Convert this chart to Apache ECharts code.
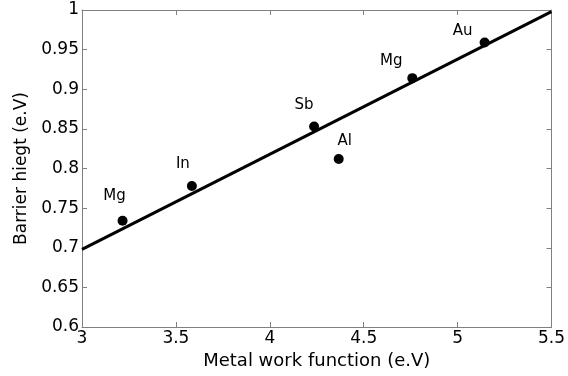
<!DOCTYPE html>
<html>
<head>
<meta charset="utf-8">
<script src="https://cdn.jsdelivr.net/npm/echarts@6/dist/echarts.min.js"></script>
<style>
  html, body { margin: 0; padding: 0; background: #fff; }
  #chart { width: 568px; height: 376px; }
</style>
</head>
<body>
<div id="chart"></div>
<script>
// 数据点：金属功函数 vs 势垒高度
const metals = ['Mg', 'In', 'Sb', 'Al', 'Mg', 'Au']
const workFunction = [3.216, 3.585, 4.236, 4.367, 4.759, 5.144]
const barrierHeight = [0.734, 0.778, 0.853, 0.812, 0.914, 0.959]
// 拟合直线端点
const fitX = [3, 5.5]
const fitY = [0.698, 0.998]
// 刻度
const xTicks = [3, 3.5, 4, 4.5, 5, 5.5]
const yTicks = [0.6, 0.65, 0.7, 0.75, 0.8, 0.85, 0.9, 0.95, 1]

// 标签偏移（样式）
const labelOffsets = [[-8, -25], [-9, -22], [-10, -21], [6, -18], [-21, -17], [-22, -11]]

const chart = echarts.init(document.getElementById('chart'))
const font = 'DejaVu Sans, sans-serif'
const axisColor = '#808080'

const baseAxis = {
  type: 'value',
  axisLine: { show: true, lineStyle: { color: axisColor, width: 1 } },
  axisTick: { show: true, inside: true, length: 5, lineStyle: { color: axisColor } },
  splitLine: { show: false },
}

const option = {
  animation: false,
  grid: { left: 82, right: 16, top: 10, bottom: 49, containLabel: false },
  xAxis: [
    Object.assign({}, baseAxis, {
      min: xTicks[0], max: xTicks[xTicks.length - 1], interval: 0.5,
      name: 'Metal work function (e.V)',
      nameLocation: 'middle', nameGap: 25,
      nameTextStyle: { fontFamily: font, fontSize: 18, color: '#000' },
      axisLabel: { fontFamily: font, fontSize: 17, color: '#000', margin: 3 },
    }),
    Object.assign({}, baseAxis, {
      position: 'top',
      min: xTicks[0], max: xTicks[xTicks.length - 1], interval: 0.5,
      axisLabel: { show: false },
    }),
  ],
  yAxis: [
    Object.assign({}, baseAxis, {
      min: yTicks[0], max: yTicks[yTicks.length - 1], interval: 0.05,
      name: 'Barrier hiegt (e.V)',
      nameLocation: 'middle', nameGap: 50,
      nameTextStyle: { fontFamily: font, fontSize: 17, color: '#000' },
      axisLabel: {
        fontFamily: font, fontSize: 17, color: '#000', margin: 3,
        formatter: v => String(+v.toFixed(2)),
      },
    }),
    Object.assign({}, baseAxis, {
      position: 'right',
      min: yTicks[0], max: yTicks[yTicks.length - 1], interval: 0.05,
      axisLabel: { show: false },
    }),
  ],
  series: [
    {
      type: 'line',
      data: fitX.map((x, i) => [x, fitY[i]]),
      symbol: 'none',
      lineStyle: { color: '#000', width: 3 },
      z: 2,
    },
    {
      type: 'scatter',
      data: workFunction.map((x, i) => ({
        value: [x, barrierHeight[i]],
        label: { offset: labelOffsets[i] },
      })),
      symbolSize: 10,
      itemStyle: { color: '#000', opacity: 1 },
      label: {
        show: true,
        position: 'inside',
        fontFamily: font,
        fontSize: 15,
        color: '#000',
        formatter: p => metals[p.dataIndex],
      },
      z: 3,
    },
  ],
}

chart.setOption(option)
</script>
</body>
</html>
